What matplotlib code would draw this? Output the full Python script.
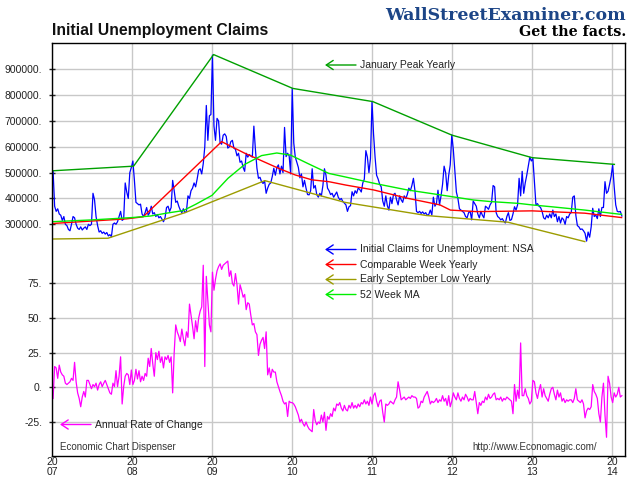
import numpy as np
import pandas as pd
import matplotlib
matplotlib.use('Agg')
import matplotlib.pyplot as plt

plt.rcParams['font.family'] = ['Liberation Sans', 'DejaVu Sans']

# weekly NSA initial claims, thousands (week ending Saturdays)
claims_2007 = [505, 370, 350, 360, 340, 335, 315, 330, 300, 295, 280, 275, 300, 330, 325, 300,
               285, 280, 290, 278, 285, 290, 280, 300, 295, 300, 420, 395, 330, 295, 270, 275,
               265, 270, 262, 268, 255, 260, 252, 300, 305, 300, 310, 330, 350, 315, 320, 460,
               425, 400, 500, 520]
claims_2008 = [545, 470, 385, 380, 375, 378, 340, 330, 345, 365, 335, 345, 370, 340, 345, 330,
               338, 325, 330, 320, 310, 325, 365, 370, 350, 365, 470, 430, 385, 390, 370, 355,
               345, 360, 345, 350, 410, 400, 430, 440, 460, 445, 475, 510, 515, 495, 535, 600,
               760, 625, 720, 725]
claims_2009 = [955, 680, 625, 710, 700, 615, 610, 645, 650, 640, 595, 600, 620, 625, 595, 590,
               565, 575, 540, 545, 520, 505, 575, 560, 570, 565, 560, 680, 590, 517, 478, 482,
               465, 458, 468, 420, 440, 455, 460, 485, 517, 490, 520, 530, 495, 525, 500, 675,
               562, 575, 565, 495]
claims_2010 = [826, 615, 560, 540, 520, 480, 495, 445, 470, 440, 415, 414, 430, 515, 440, 450,
               415, 405, 420, 410, 450, 515, 490, 440, 430, 415, 420, 405, 415, 425, 405, 395,
               400, 388, 382, 375, 350, 368, 372, 426, 410, 430, 420, 440, 435, 425, 460, 475,
               585, 560, 500, 555]
claims_2011 = [775, 650, 560, 490, 475, 455, 445, 390, 370, 410, 372, 355, 405, 380, 415, 420,
               395, 375, 410, 395, 385, 410, 400, 415, 440, 430, 450, 478, 430, 350, 345, 350,
               342, 348, 340, 345, 335, 338, 355, 336, 405, 370, 380, 432, 375, 410, 455, 525,
               500, 430, 490, 530, 646]
claims_2012 = [590, 505, 425, 400, 360, 355, 350, 345, 330, 325, 345, 350, 317, 390, 380, 370,
               340, 325, 350, 335, 325, 370, 365, 358, 375, 385, 450, 445, 345, 330, 325, 317,
               322, 312, 305, 330, 345, 315, 318, 340, 368, 355, 375, 478, 410, 505, 420, 460,
               490, 525, 560, 545]
claims_2013 = [555, 465, 375, 380, 370, 365, 350, 325, 320, 335, 325, 340, 325, 355, 330, 340,
               310, 330, 305, 325, 318, 300, 330, 325, 340, 345, 405, 410, 335, 295, 290, 280,
               282, 275, 265, 235, 270, 250, 290, 362, 330, 336, 322, 360, 330, 365, 365, 465,
               420, 428, 455, 485]
claims_2014 = [530, 445, 375, 350, 348, 350, 332]

# annual rate of change, percent
roc_2007 = [-8, 15, 14, 6.5, 16, 11, 9, 8, 3, 2, 3, 4, 6.5, 5, 18, 4, -4, -8, -14, -7, -3, -7,
            5, 5, 2, -1, 2, 0.5, 3, -2, 2, 4, 0.5, 3, 5, 2, -1, -4, -5, 3, 0.5, 12, 0.5, 8,
            22, -12, 0.5, 8, 10, 9, 2, 12.5]
roc_2008 = [2, 5, 13, 6, 12, 4, 8, 5, 10, 8, 21, 15, 28, 17, 8, 25, 20, 26, 18, 22, 14, 22,
            20, 23, 18, 22, -4, 25, 45, 40, 37, 33, 42, 35, 30, 40, 36, 60, 52, 44, 35, 48,
            40, 50, 55, 58, 88, 15, 80, 62, 45, 40]
roc_2009 = [83, 70, 78, 84, 87, 89, 85, 88, 89, 90, 91, 80, 84, 75, 73, 82, 74, 60, 74, 70,
            65, 67, 56, 61, 60, 52, 45, 46, 40, 38, 23, 31, 34, 36, 28, 40, 9, 14, 7, 13, 11,
            11, 4, 0.5, -3, -6, -10, -12, -11, -21, -10, -11]
roc_2010 = [-11, -12, -14, -17, -20, -25, -23, -26, -28, -25, -28, -30, -31, -32, -16, -24,
            -27, -25, -26, -20, -25, -18, -31, -21, -23, -19, -21, -15, -17, -12, -13, -11,
            -15, -17, -13, -16, -17, -13, -15, -11, -15, -13, -15, -12, -14, -11, -12, -9,
            -12, -10, -13, -7]
roc_2011 = [-12, -6, -4, -10, -14, -10, -9, -18, -25, -12, -13, -12, -10, -11, -12, -9, -7, 4,
            -2, -9, -8, -7, -9, -8, -7, -8, -6, -7, -7, -8, -15, -14, -10, -11, -7, -5, -3,
            -7, -12, -10, -11, -10, -8, -11, -9, -10, -6, -10, -8, -13, -6, -14, -10]
roc_2012 = [-4, -7, -9, -4, -8, -10, -7, -9, -5, -7, -10, -8, -9, -9, -3, -11, -19, -11, -13,
            -10, -11, -7, -9, -5, -8, -7, -5, -4, -9, -8, -9, -7, -10, -8, -9, -7, -8, -9,
            -10, -19, 2, -10, -2, -8, 32, -6, -6, -1, -6, -8, -12, -10]
roc_2013 = [5, 4, -4, -8, -2, 2, -7, -1, -6, -8, -10, -5, -1, 0, -5, -9, -2, -7, -4, -10, -8,
            -11, -9, -10, -9, -9, -11, -8, -1, -9, -10, -11, -9, -12, -22, -17, -15, -16, -14,
            2, -3, -5, -8, -19, -25, -7, 3, -20, -36, 8, 3, -7]
roc_2014 = [-11, -4, -7, -5, 0, -7, -6]

# derived reference lines (decimal year, thousands)
peak_years = [2007.0, 2008.02, 2009.02, 2010.01, 2011.01, 2012.0, 2013.0, 2014.03]
peak_vals = [507, 525, 957, 826, 775, 645, 558, 532]
comp_years = [2007.0, 2007.93, 2008.14, 2009.12, 2009.41, 2009.83, 2010.04, 2010.25, 2010.46,
              2010.67, 2011.02, 2011.44, 2011.85, 2011.98, 2012.31, 2013.0, 2013.66, 2014.12]
comp_vals = [303, 321, 329, 620, 575, 517, 491, 472, 465, 452, 433, 401, 375, 355, 349, 352,
             343, 326]
low_years = [2007.0, 2007.70, 2008.67, 2009.66, 2010.66, 2011.68, 2012.70, 2013.66]
low_vals = [243, 246, 346, 469, 385, 334, 308, 233]
ma_years = [2007.0, 2007.5, 2008.0, 2008.23, 2008.43, 2008.64, 2008.8, 2009.0, 2009.2, 2009.41,
            2009.62, 2009.81, 2009.98, 2010.2, 2010.46, 2010.67, 2011.02, 2011.44, 2011.85,
            2012.27, 2012.48, 2012.83, 2013.0, 2013.24, 2013.66, 2014.07, 2014.12]
ma_vals = [310, 317, 326, 332, 343, 353, 378, 412, 478, 532, 566, 576, 568, 535, 497, 483, 459,
           433, 414, 394, 388, 381, 375, 368, 355, 340, 338]

years = [2007, 2008, 2009, 2010, 2011, 2012, 2013, 2014]
year_labels = ['20\n07', '20\n08', '20\n09', '20\n10', '20\n11', '20\n12', '20\n13', '20\n14']
claim_ticks = [300000, 400000, 500000, 600000, 700000, 800000, 900000]
roc_ticks = [-25, 0, 25, 50, 75]

weeks = pd.date_range('2007-01-06', periods=372, freq='7D')
wx = weeks.year + (weeks.dayofyear - 1) / np.where(weeks.is_leap_year, 366, 365)
claims = np.concatenate([claims_2007, claims_2008, claims_2009, claims_2010, claims_2011,
                         claims_2012, claims_2013, claims_2014]) * 1000
roc = np.concatenate([roc_2007, roc_2008, roc_2009, roc_2010, roc_2011, roc_2012, roc_2013,
                      roc_2014])

fig = plt.figure(figsize=(6.4, 4.8), dpi=100)
rect = [52 / 640, 24 / 480, 573 / 640, 412.7 / 480]
grid_c = '#c8c8c8'

# lower panel (drawn underneath)
ax2 = fig.add_axes(rect)
ax2.set_xlim(2007.0, 2014.1625)
ax2.set_ylim(-49.5, 248.0)
ax2.plot(wx, roc, color='#ff00ff', lw=0.9)
ax2.set_yticks(roc_ticks)
ax2.set_yticklabels([f'{v}.' for v in roc_ticks])
ax2.set_xticks(years)
ax2.set_xticklabels(year_labels, linespacing=0.9)
ax2.grid(True, color=grid_c, lw=1)
ax2.set_axisbelow(True)
for s in ax2.spines.values():
    s.set_visible(False)
ax2.tick_params(axis='x', length=0, pad=1, labelsize=7.5, colors='#222222')
ax2.tick_params(axis='y', direction='inout', length=4, width=1, pad=5, labelsize=7.5,
                colors='#222222')

# upper panel
ax1 = fig.add_axes(rect, sharex=ax2)
ax1.patch.set_visible(False)
ax1.set_ylim(-597000, 1000658)
ax1.plot(wx, claims, color='#0000ff', lw=0.9)
ax1.plot(comp_years, np.array(comp_vals) * 1000, color='#ff0000', lw=1)
ax1.plot(low_years, np.array(low_vals) * 1000, color='#9c9c00', lw=1)
ax1.plot(ma_years, np.array(ma_vals) * 1000, color='#00ee00', lw=1)
ax1.plot(peak_years, np.array(peak_vals) * 1000, color='#00a000', lw=1)
ax1.set_yticks(claim_ticks)
ax1.set_yticklabels([f'{v}.' for v in claim_ticks])
ax1.grid(True, axis='y', color=grid_c, lw=1)
ax1.set_axisbelow(True)
ax1.tick_params(axis='x', bottom=False, labelbottom=False)
ax1.tick_params(axis='y', direction='inout', length=4, width=1, pad=5, labelsize=7.5,
                colors='#222222')
for s in ax1.spines.values():
    s.set_color('black')
    s.set_linewidth(1)

# titles
fig.text(52 / 640, 1 - 35 / 480, 'Initial Unemployment Claims', fontsize=11.3,
         fontweight='bold', color='#111111', va='baseline')
fig.text(626 / 640, 1 - 15 / 480, 'WallStreetExaminer.com', fontsize=12.5, fontweight='bold',
         family='DejaVu Serif', color='#1c4587', ha='right', va='center')
fig.text(626 / 640, 1 - 32 / 480, 'Get the facts.', fontsize=10.3, fontweight='bold',
         family='DejaVu Serif', color='black', ha='right', va='center')


def arrow_label(x0, y, color, label):
    fig.text((x0 + 35) / 640, 1 - y / 480, label, fontsize=7.5, color='#222222',
             va='center', ha='left')
    ax1.annotate('', xy=(x0, 480 - y), xytext=(x0 + 31, 480 - y),
                 xycoords='figure pixels', textcoords='figure pixels',
                 arrowprops=dict(arrowstyle='->,head_length=0.5,head_width=0.33',
                                 color=color, lw=1, shrinkA=0, shrinkB=0))


arrow_label(325, 65, '#00a000', 'January Peak Yearly')
arrow_label(325, 249.5, '#0000ff', 'Initial Claims for Unemployment: NSA')
arrow_label(325, 264.5, '#ff0000', 'Comparable Week Yearly')
arrow_label(325, 279.5, '#9c9c00', 'Early September Low Yearly')
arrow_label(325, 294.5, '#00ee00', '52 Week MA')
arrow_label(60, 424.5, '#ff00ff', 'Annual Rate of Change')

fig.text(60 / 640, 1 - 447 / 480, 'Economic Chart Dispenser', fontsize=7, color='#333333',
         va='center')
fig.text(597 / 640, 1 - 447 / 480, 'http://www.Economagic.com/', fontsize=7, color='#333333',
         va='center', ha='right')

fig.savefig('out.png', dpi=100)
